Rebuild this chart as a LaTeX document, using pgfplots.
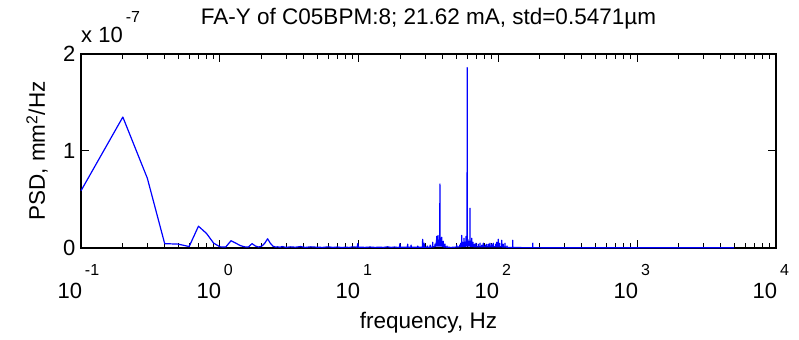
\documentclass[border=0pt]{standalone}
\usepackage{pgfplots}
\pgfplotsset{compat=1.18}
\usepackage{fontspec}
\setmainfont{Liberation Sans}
\newcommand{\fnt}{\fontsize{22.5bp}{26bp}\selectfont}
\newcommand{\tfnt}{\fontsize{22bp}{26bp}\selectfont}
\newcommand{\sfnt}{\fontsize{16bp}{18bp}\selectfont}
\newcommand{\mylab}{\pgfmathparse{int(round(\tick))}\hspace{2bp}\makebox[0pt][r]{10}\makebox[0pt][l]{\hspace{3bp}\raisebox{23bp}{\sfnt\pgfmathresult}}}
\begin{document}
\begin{tikzpicture}
\path[use as bounding box] (0,0) rectangle (799bp,340bp);
\begin{axis}[
  at={(81bp,92bp)}, anchor=south west,
  scale only axis, width=695bp, height=194bp,
  xmode=log, log basis x=10,
  xmin=0.1, xmax=10000, ymin=0, ymax=2,
  ytick={0,1,2}, yticklabels={0,1,2},
  xticklabel={\mylab},
  xticklabel style={anchor=base, yshift=-50bp, inner sep=0pt},
  yticklabel style={xshift=-2bp},
  tick label style={font=\tfnt},
  label style={font=\fnt},
  title style={font=\fnt},
  tick align=inside, tick pos=both,
  major tick length=8bp, minor tick length=5bp,
  every tick/.style={black, line width=1bp},
  axis line style={black, line width=1.2bp},
  title={FA-Y of C05BPM:8; 21.62 mA, std=0.5471µm},
  title style={at={(0.5,1)}, anchor=base, yshift=24bp, inner sep=0pt},
  xlabel={frequency, Hz},
  xlabel style={at={(axis description cs:0.5,0)}, anchor=base, yshift=-80bp, inner sep=0pt},
  ylabel={PSD, mm\textsuperscript{2}/Hz},
  ylabel style={at={(axis description cs:-0.0518,0.5)}, anchor=base, inner sep=0pt},
  clip=false,
]
\addplot[color={rgb,255:red,0;green,0;blue,255}, line width=1.2bp, line join=round] coordinates {
(0.1,0.59)(0.2,1.35)(0.3,0.72)(0.4,0.045)(0.5,0.04)(0.6,0.015)(0.7,0.225)(0.8,0.15)(0.9,0.05)(1.0,0.012)(1.1,0.01)(1.2,0.075)(1.3,0.05)(1.4,0.025)(1.5,0.012)(1.6,0.01)(1.7,0.045)(1.8,0.02)(1.9,0.01)(2.0,0.02)(2.1,0.05)(2.2,0.095)(2.3,0.05)(2.4,0.02)(2.5,0.01)(2.6,0.012)(2.7,0.008)(2.8,0.015)(2.9,0.01)(3.0,0.006)(3.2,0.012)(3.5,0.008)(3.8,0.015)(4.1,0.006)(4.5,0.012)(5.0,0.008)(5.5,0.006)(6.0,0.012)(6.5,0.006)(7.0,0.01)(7.5,0.005)(8.0,0.008)(8.5,0.006)(9.0,0.012)(9.7,0.008)(9.8,0.045)(9.9,0.008)(10.5,0.008)(11,0.006)(12,0.01)(13,0.006)(14,0.008)(15,0.006)(16,0.012)(17,0.006)(18,0.01)(19,0.006)
(19.6,0.008)(19.7,0.045)(19.8,0.008)
(22.3,0.008)(22.4,0.04)(22.5,0.008)
(23.6,0.008)(23.7,0.03)(23.8,0.008)
(26.4,0.008)(26.5,0.02)(26.6,0.008)
(28.6,0.008)(28.7,0.09)(28.8,0.008)
(29.3,0.008)(29.4,0.05)(29.5,0.008)
(30.9,0.008)(31.0,0.02)(31.1,0.008)
(32.4,0.008)(32.5,0.03)(32.6,0.008)
(33.8,0.01)(33.9,0.06)(34.0,0.01)
(35.1,0.015)(35.2,0.04)(35.3,0.015)
(35.8,0.02)(35.9,0.06)(36.0,0.02)
(36.1,0.02)(36.2,0.12)(36.3,0.02)
(36.5,0.02)(36.6,0.09)(36.7,0.02)
(36.9,0.02)(37.0,0.13)(37.1,0.02)
(37.5,0.02)(37.6,0.08)(37.7,0.02)
(38.1,0.02)(38.2,0.66)(38.3,0.02)
(38.7,0.02)(38.8,0.10)(38.9,0.02)
(39.3,0.02)(39.4,0.11)(39.5,0.02)
(39.9,0.015)(40.0,0.06)(40.1,0.015)
(40.3,0.015)(40.4,0.07)(40.5,0.015)
(40.9,0.01)(41.0,0.04)(41.1,0.01)
(41.5,0.01)(41.6,0.04)(41.7,0.01)
(42.9,0.008)(43.0,0.02)(43.1,0.008)
(46,0.006)
(50.4,0.01)(50.5,0.03)(50.6,0.01)
(52.9,0.012)(53.0,0.03)(53.1,0.012)
(53.9,0.012)(54.0,0.05)(54.1,0.012)
(54.7,0.015)(54.8,0.13)(54.9,0.015)
(55.5,0.015)(55.6,0.06)(55.7,0.015)
(56.8,0.015)(56.9,0.10)(57.0,0.015)
(57.7,0.015)(57.8,0.06)(57.9,0.015)
(58.8,0.02)(58.9,0.12)(59.0,0.02)
(59.4,0.02)(59.5,0.08)(59.6,0.02)
(59.9,0.02)(60.0,1.86)(60.1,0.02)
(60.5,0.02)(60.6,0.09)(60.7,0.02)
(61.4,0.02)(61.5,0.07)(61.6,0.02)
(62.1,0.02)(62.2,0.06)(62.3,0.02)
(62.8,0.02)(62.9,0.41)(63.0,0.02)
(63.7,0.015)(63.8,0.07)(63.9,0.015)
(64.6,0.015)(64.7,0.10)(64.8,0.015)
(66.0,0.015)(66.1,0.06)(66.2,0.015)
(67.7,0.012)(67.8,0.04)(67.9,0.012)
(69.4,0.012)(69.5,0.05)(69.6,0.012)
(71.9,0.012)(72.0,0.04)(72.1,0.012)
(74.2,0.012)(74.3,0.05)(74.4,0.012)
(76.4,0.012)(76.5,0.03)(76.6,0.012)
(78.3,0.012)(78.4,0.05)(78.5,0.012)
(80.9,0.012)(81.0,0.03)(81.1,0.012)
(82.9,0.012)(83.0,0.04)(83.1,0.012)
(85.4,0.012)(85.5,0.04)(85.6,0.012)
(87.5,0.012)(87.6,0.05)(87.7,0.012)
(89.9,0.012)(90.0,0.04)(90.1,0.012)
(92.4,0.012)(92.5,0.05)(92.6,0.012)
(95.9,0.012)(96.0,0.04)(96.1,0.012)
(97.9,0.012)(98.0,0.06)(98.1,0.012)
(100.4,0.012)(100.5,0.09)(100.6,0.012)
(102.9,0.012)(103.0,0.05)(103.1,0.012)
(106.2,0.012)(106.3,0.08)(106.4,0.012)
(108.9,0.01)(109.0,0.04)(109.1,0.01)
(112.2,0.01)(112.3,0.05)(112.4,0.01)
(115.9,0.008)(116.0,0.02)(116.1,0.008)
(120,0.005)
(127.5,0.005)(127.6,0.08)(127.7,0.005)
(150,0.004)
(177.9,0.004)(178.0,0.05)(178.1,0.004)
(250,0.003)(500,0.003)(1000,0.003)(2000,0.002)(5000,0.002)
};
\node[anchor=base west, inner sep=0pt, font=\tfnt] at (rel axis cs:0,1) [yshift=11bp] {x 10\hspace{3bp}\raisebox{20bp}{\sfnt-7}};
\end{axis}
\end{tikzpicture}
\end{document}
